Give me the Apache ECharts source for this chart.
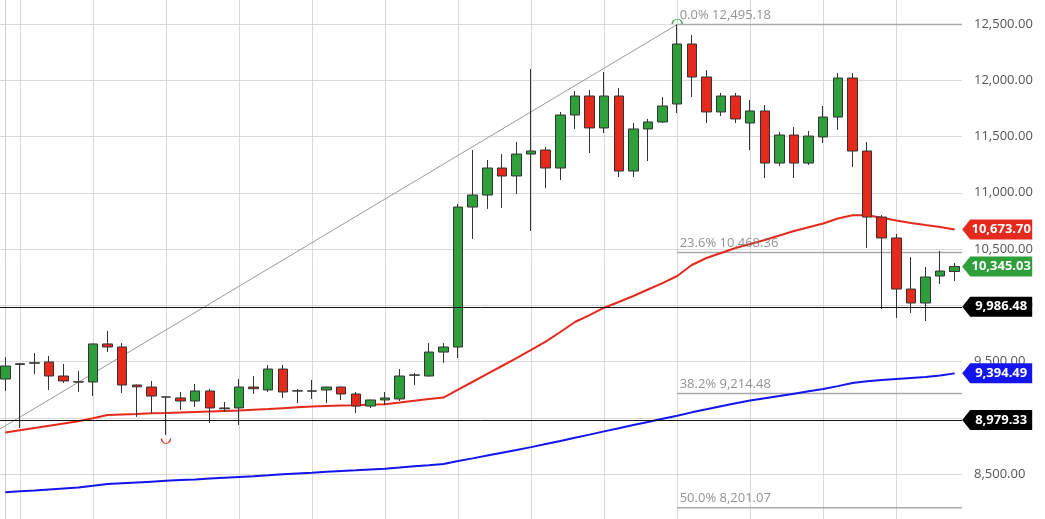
<!DOCTYPE html>
<html>
<head>
<meta charset="utf-8">
<title>Candles</title>
<script src="https://cdn.jsdelivr.net/npm/echarts@6/dist/echarts.min.js"></script>
<style>
  html, body { margin: 0; padding: 0; background: #fff; }
  #chart { width: 1045px; height: 519px; }
</style>
</head>
<body>
<div id="chart"></div>
<script>
// 蜡烛数据: [open, close, low, high]
const candles = [
  [9344, 9460, 9238, 9540], [9474, 9480, 8909, 9487], [9485, 9489, 9389, 9576], [9496, 9371, 9247, 9549],
  [9371, 9327, 9309, 9478], [9320, 9317, 9229, 9416], [9318, 9656, 9193, 9660], [9656, 9629, 9584, 9771],
  [9629, 9291, 9220, 9664], [9291, 9275, 9007, 9295], [9273, 9193, 9042, 9327], [9185, 9184, 8847, 9188],
  [9176, 9149, 9069, 9229], [9149, 9238, 9096, 9300], [9238, 9087, 8953, 9256], [9080, 9087, 9051, 9140],
  [9087, 9273, 8936, 9344], [9273, 9258, 9211, 9371], [9247, 9433, 9229, 9469], [9433, 9229, 9176, 9469],
  [9240, 9237, 9131, 9256], [9236, 9239, 9167, 9336], [9247, 9273, 9131, 9275], [9273, 9211, 9158, 9276],
  [9211, 9104, 9042, 9229], [9104, 9158, 9087, 9160], [9158, 9176, 9113, 9229], [9167, 9371, 9149, 9433],
  [9378, 9381, 9291, 9398], [9371, 9584, 9368, 9664], [9584, 9629, 9487, 9664], [9629, 10873, 9531, 10900],
  [10873, 10980, 10589, 11380], [10980, 11220, 10856, 11291], [11220, 11149, 10864, 11344], [11149, 11344, 10989, 11451],
  [11344, 11371, 10660, 12100], [11380, 11220, 11042, 11407], [11220, 11691, 11113, 11718], [11691, 11860, 11567, 11904],
  [11860, 11576, 11353, 11913], [11576, 11860, 11531, 12073], [11860, 11193, 11140, 11931], [11193, 11567, 11140, 11620],
  [11567, 11629, 11282, 11656], [11629, 11771, 11620, 11851], [11789, 12322, 11709, 12495.18], [12322, 12029, 11851, 12402],
  [12029, 11718, 11620, 12091], [11718, 11860, 11682, 11887], [11860, 11656, 11620, 11887], [11620, 11727, 11380, 11824],
  [11727, 11264, 11131, 11780], [11264, 11513, 11238, 11540], [11513, 11264, 11131, 11584], [11264, 11504, 11247, 11549],
  [11496, 11673, 11442, 11771], [11673, 12020, 11558, 12064], [12020, 11371, 11229, 12064], [11371, 10784, 10509, 11451],
  [10784, 10598, 9967, 10802], [10598, 10144, 9887, 10633], [10144, 10020, 9931, 10429], [10020, 10251, 9860, 10340],
  [10260, 10304, 10189, 10482], [10300, 10345.03, 10216, 10376]
];

// 红色均线
const maRed = [
  8869, 8889, 8909, 8929, 8949, 8969, 8996, 9024, 9029, 9033, 9039, 9042, 9047, 9052, 9056, 9060,
  9064, 9071, 9077, 9085, 9093, 9099, 9104, 9108, 9112, 9117, 9121, 9136, 9152, 9167, 9179, 9251,
  9320, 9391, 9460, 9531, 9604, 9676, 9762, 9851, 9913, 9978, 10029, 10082, 10140, 10196, 10260, 10358,
  10420, 10464, 10509, 10544, 10580, 10620, 10660, 10694, 10727, 10771, 10800, 10800, 10777, 10753, 10731, 10713,
  10696, 10673.70
];

// 蓝色均线
const maBlue = [
  8337, 8346, 8354, 8363, 8372, 8381, 8395, 8411, 8418, 8425, 8432, 8439, 8446, 8452, 8459, 8466,
  8473, 8480, 8488, 8497, 8505, 8512, 8520, 8527, 8533, 8540, 8547, 8557, 8568, 8578, 8589, 8615,
  8639, 8664, 8689, 8713, 8739, 8766, 8793, 8822, 8850, 8879, 8907, 8936, 8963, 8991, 9018, 9048,
  9075, 9103, 9129, 9153, 9173, 9193, 9214, 9235, 9255, 9281, 9309, 9325, 9335, 9344, 9353, 9362,
  9375, 9394.49
];

// 斐波那契回撤
const fibPct = ['0.0%', '23.6%', '38.2%', '50.0%'];
const fibValues = [12495.18, 10468.36, 9214.48, 8201.07];
const fibStartIdx = 46;

// 趋势线 [index, value]
const trendStart = [-0.5, 8889];
const trendEnd = [46, 12495.18];

// 水平线
const hLines = [9986.48, 8979.33];

// 高低点标记
const highMark = [46, 12495.18];
const lowMark = [11, 8847];

const categories = candles.map((c, i) => String(i));

const UP = '#2e9f3b';
const DOWN = '#e5291d';
const BLUE = '#1414ee';
const FONT = "'Open Sans', sans-serif";

const fmt = v => v.toLocaleString('en-US', { minimumFractionDigits: 2, maximumFractionDigits: 2 });

// 右侧价格标签
const tagPath = 'path://M0,10 L8,0 L70,0 L70,20 L8,20 Z';
const makeTag = (value, color) => ({
  coord: [candles.length - 1, value],
  value: value,
  symbol: tagPath,
  symbolSize: [70, 20],
  symbolKeepAspect: false,
  symbolOffset: [42.5, 0],
  itemStyle: { color: color },
  label: {
    show: true,
    position: 'inside',
    offset: [4, 0],
    formatter: () => fmt(value),
    color: '#fff',
    fontWeight: 'bold',
    fontSize: 13,
    fontFamily: FONT
  }
});

const fibSeries = fibValues.map((v, i) => ({
  type: 'line',
  xAxisIndex: 1,
  data: [[fibStartIdx, v], [candles.length - 0.5, v]],
  symbol: 'none',
  silent: true,
  lineStyle: { color: '#aaa', width: 1.5 },
  z: 1
}));

const chart = echarts.init(document.getElementById('chart'));

const option = {
  animation: false,
  grid: { left: -2, right: 83, top: -32.25, bottom: -11.25, outerBoundsMode: 'none' },
  xAxis: [
    {
      type: 'category',
      data: categories,
      boundaryGap: true,
      axisLine: { show: false },
      axisTick: { show: false },
      axisLabel: { show: false },
      splitLine: {
        show: true,
        alignWithLabel: true,
        interval: (idx) => idx % 5 === 1,
        lineStyle: { color: '#d9d9d9', width: 1 }
      }
    },
    {
      type: 'value',
      min: -0.5,
      max: candles.length - 0.5,
      show: false
    }
  ],
  yAxis: {
    type: 'value',
    position: 'right',
    min: 8000,
    max: 13000,
    interval: 500,
    axisLine: { show: true, lineStyle: { color: '#cfcfcf' } },
    axisTick: { show: false },
    axisLabel: {
      margin: 12,
      color: '#555',
      fontSize: 13,
      fontFamily: FONT,
      formatter: v => fmt(v)
    },
    splitLine: { lineStyle: { color: '#d9d9d9', width: 1 } }
  },
  series: [
    ...fibSeries,
    {
      type: 'line',
      xAxisIndex: 1,
      data: [trendStart, trendEnd],
      symbol: 'none',
      silent: true,
      lineStyle: { color: '#999', width: 1 },
      z: 1
    },
    {
      type: 'scatter',
      xAxisIndex: 1,
      data: fibValues.map(v => [fibStartIdx, v]),
      symbolSize: 1,
      itemStyle: { color: 'transparent' },
      silent: true,
      label: {
        show: true,
        position: [3, -15],
        formatter: p => fibPct[p.dataIndex] + ' ' + fmt(fibValues[p.dataIndex]),
        color: '#777',
        fontSize: 13,
        fontFamily: FONT
      },
      z: 3
    },
    {
      type: 'line',
      data: maBlue,
      symbol: 'none',
      silent: true,
      lineStyle: { color: BLUE, width: 2 },
      z: 2,
      markPoint: { silent: true, data: [makeTag(maBlue[maBlue.length - 1], BLUE)] }
    },
    {
      type: 'line',
      data: maRed,
      symbol: 'none',
      silent: true,
      lineStyle: { color: DOWN, width: 2 },
      z: 2,
      markPoint: { silent: true, data: [makeTag(maRed[maRed.length - 1], DOWN)] }
    },
    {
      type: 'candlestick',
      data: candles,
      barWidth: 10,
      z: 4,
      itemStyle: {
        color: UP,
        color0: DOWN,
        borderColor: '#333',
        borderColor0: '#333',
        borderColorDoji: '#333',
        borderWidth: 1
      },
      markLine: {
        silent: true,
        symbol: ['none', 'none'],
        label: { show: false },
        lineStyle: { color: '#111', width: 1, type: 'solid' },
        data: hLines.map(v => ({ yAxis: v }))
      },
      markPoint: {
        silent: true,
        data: [
          makeTag(candles[candles.length - 1][1], UP),
          ...hLines.map(v => makeTag(v, '#000')),
          {
            coord: highMark,
            symbol: 'path://M0,10 A10,10 0 0 1 20,10',
            symbolSize: [10, 5],
            symbolOffset: [0, -3],
            itemStyle: { color: 'transparent', borderColor: '#3aa84a', borderWidth: 1 },
            label: { show: false }
          },
          {
            coord: lowMark,
            symbol: 'path://M0,0 A10,10 0 0 0 20,0',
            symbolSize: [9, 5],
            symbolOffset: [0, 6],
            itemStyle: { color: 'transparent', borderColor: DOWN, borderWidth: 1 },
            label: { show: false }
          }
        ]
      }
    }
  ]
};

chart.setOption(option);
window.addEventListener('resize', () => chart.resize());
</script>
</body>
</html>
